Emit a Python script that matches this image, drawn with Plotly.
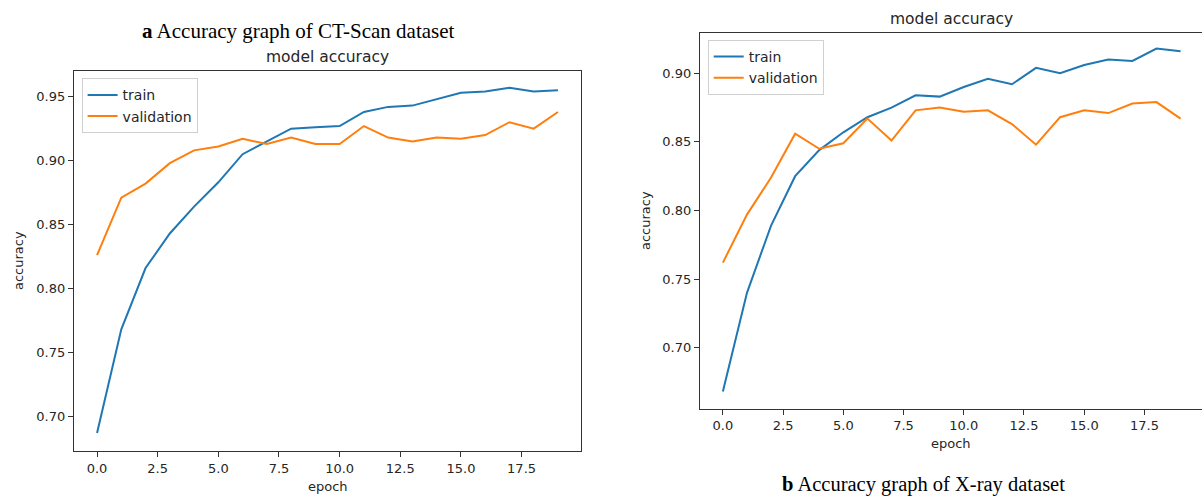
import plotly.graph_objects as go

# Training history: accuracy per epoch
epochs = list(range(20))

ct_train = [0.687, 0.768, 0.816, 0.843, 0.864, 0.883, 0.905, 0.915, 0.925, 0.926,
            0.927, 0.938, 0.942, 0.943, 0.948, 0.953, 0.954, 0.957, 0.954, 0.955]
ct_val = [0.826, 0.871, 0.882, 0.898, 0.908, 0.911, 0.917, 0.913, 0.918, 0.913,
          0.913, 0.927, 0.918, 0.915, 0.918, 0.917, 0.920, 0.930, 0.925, 0.938]

xr_train = [0.668, 0.740, 0.789, 0.825, 0.844, 0.857, 0.868, 0.875, 0.884, 0.883,
            0.890, 0.896, 0.892, 0.904, 0.900, 0.906, 0.910, 0.909, 0.918, 0.916]
xr_val = [0.762, 0.797, 0.824, 0.856, 0.845, 0.849, 0.867, 0.851, 0.873, 0.875,
          0.872, 0.873, 0.863, 0.848, 0.868, 0.873, 0.871, 0.878, 0.879, 0.867]

series_names = ["train", "validation"]
colors = ["#1f77b4", "#ff7f0e"]

W, H = 1202, 497
FONT = "DejaVu Sans"
SERIF = "Liberation Serif"
TXT = "#262626"


def px_x(v):
    return v / W


def px_y(v):
    return 1 - v / H


fig = go.Figure()

for name, col, ys in zip(series_names, colors, [ct_train, ct_val]):
    fig.add_trace(go.Scatter(x=epochs, y=ys, mode="lines", name=name,
                             line=dict(color=col, width=2),
                             xaxis="x", yaxis="y", legend="legend"))
for name, col, ys in zip(series_names, colors, [xr_train, xr_val]):
    fig.add_trace(go.Scatter(x=epochs, y=ys, mode="lines", name=name,
                             line=dict(color=col, width=2),
                             xaxis="x2", yaxis="y2", legend="legend2"))

axis_common = dict(showgrid=False, zeroline=False, showline=True, mirror=True,
                   linecolor="#333333", linewidth=1.3, ticks="outside",
                   ticklen=5, tickwidth=1.2, tickcolor="#333333",
                   tickfont=dict(family=FONT, size=13, color=TXT))

legend_common = dict(xanchor="left", yanchor="top",
                     bgcolor="rgba(255,255,255,0.8)", bordercolor="#d0d0d0", borderwidth=1,
                     font=dict(family=FONT, size=14, color=TXT))

fig.update_layout(
    width=W, height=H, autosize=False,
    margin=dict(l=0, r=0, t=0, b=0),
    paper_bgcolor="white", plot_bgcolor="white",
    xaxis=dict(domain=[px_x(74), px_x(581)], range=[-0.95, 19.95],
               tick0=0, dtick=2.5, tickformat=".1f", anchor="y", **axis_common),
    yaxis=dict(domain=[px_y(451), px_y(70.7)], range=[0.6729, 0.9703],
               tick0=0.7, dtick=0.05, tickformat=".2f", anchor="x", **axis_common),
    xaxis2=dict(domain=[px_x(700), 1.0], range=[-0.95, 19.89],
                tick0=0, dtick=2.5, tickformat=".1f", anchor="y2", **axis_common),
    yaxis2=dict(domain=[px_y(408.7), px_y(32.7)], range=[0.6555, 0.9296],
                tick0=0.7, dtick=0.05, tickformat=".2f", anchor="x2", **axis_common),
    legend=dict(x=px_x(81.6), y=px_y(78.3), **legend_common),
    legend2=dict(x=px_x(707.7), y=px_y(40), **legend_common),
    showlegend=True,
)


def label(text, x, y, size=13, family=FONT, angle=0, color=TXT):
    fig.add_annotation(text=text, x=px_x(x), y=px_y(y), xref="paper", yref="paper",
                       xanchor="center", yanchor="middle", showarrow=False,
                       textangle=angle, font=dict(family=family, size=size, color=color))


# Captions and titles
label("<b>a</b> Accuracy graph of CT-Scan dataset", 298, 31, size=21, family=SERIF, color="black")
label("<b>b</b> Accuracy graph of X-ray dataset", 923, 484, size=20.5, family=SERIF, color="black")
label("model accuracy", 327.5, 56.5, size=15.5)
label("model accuracy", 951, 19, size=15.5)

# Axis labels
label("epoch", 327.5, 486.5)
label("epoch", 951, 443)
label("accuracy", 18, 261, angle=-90)
label("accuracy", 645, 221, angle=-90)

fig.write_html("out.html")
